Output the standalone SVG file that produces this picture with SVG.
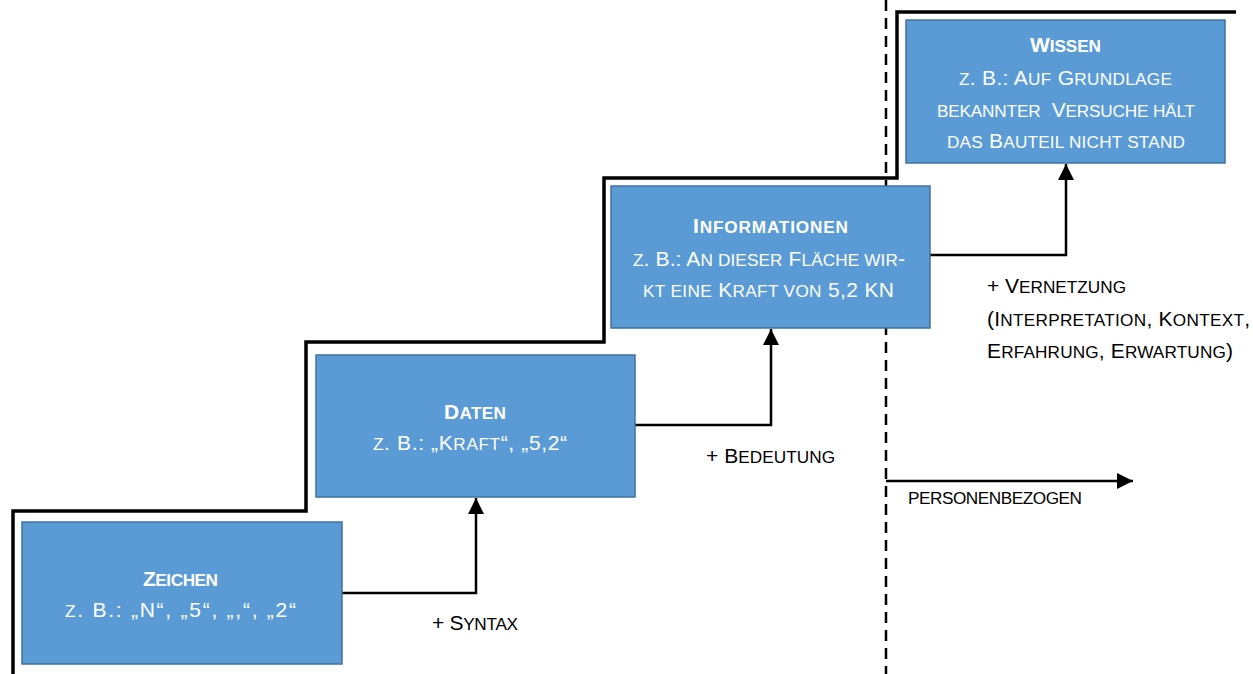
<svg xmlns="http://www.w3.org/2000/svg" width="1253" height="674" viewBox="0 0 1253 674">
  <style>
    .box { fill: #5B9BD5; stroke: #41719C; stroke-width: 1.5; }
    .t { font-family: "Liberation Sans", Arial, sans-serif; fill: #FFFFFF; font-size: 21px; }
    .h { font-weight: bold; }
    .lbl { font-family: "Liberation Sans", Arial, sans-serif; fill: #000000; font-size: 21px; }
    .s { font-size: 17.2px; }
    .stair { fill: none; stroke: #000; stroke-width: 3.5; }
    .conn { fill: none; stroke: #000; stroke-width: 2.5; }
    .dash { fill: none; stroke: #000; stroke-width: 2.5; stroke-dasharray: 11 7; }
  </style>
  <defs>
    <marker id="arrow" viewBox="0 0 10 10" refX="10" refY="5" markerWidth="6.5" markerHeight="6.5" orient="auto" markerUnits="strokeWidth">
      <path d="M0,0 L10,5 L0,10 Z" fill="#000"/>
    </marker>
  </defs>

  <rect width="1253" height="674" fill="#FFFFFF"/>

  <!-- staircase and boundary -->
  <polyline class="stair" points="13,674 13,511 306,511 306,342 604,342 604,178 897,178 897,12 1236,12"/>
  <line class="dash" x1="886" y1="0" x2="886" y2="674"/>

  <!-- connectors -->
  <g id="connectors">
    <polyline class="conn" points="342,593 476,593 476,498" marker-end="url(#arrow)"/>
    <polyline class="conn" points="635,425 771,425 771,329" marker-end="url(#arrow)"/>
    <polyline class="conn" points="930,255 1066,255 1066,164" marker-end="url(#arrow)"/>
    <line class="conn" x1="886" y1="481" x2="1133" y2="481" marker-end="url(#arrow)"/>
  </g>

  <!-- nodes (small caps built from two type sizes) -->
  <g id="zeichen">
    <rect class="box" x="22" y="522" width="320" height="142"/>
    <text class="t h" x="143" y="586" textLength="75">Z<tspan class="s">EICHEN</tspan></text>
    <text class="t" x="65" y="617" textLength="231"><tspan class="s">Z</tspan>. B.: „N“, „5“, „,“, „2“</text>
  </g>
  <g id="daten">
    <rect class="box" x="316" y="355" width="319" height="142"/>
    <text class="t h" x="444" y="419" textLength="62">D<tspan class="s">ATEN</tspan></text>
    <text class="t" x="373" y="450" textLength="194"><tspan class="s">Z</tspan>. B.: „K<tspan class="s">RAFT</tspan>“, „5,2“</text>
  </g>
  <g id="informationen">
    <rect class="box" x="611" y="186" width="319" height="142"/>
    <text class="t h" x="693" y="233" textLength="155">I<tspan class="s">NFORMATIONEN</tspan></text>
    <text class="t" x="633" y="266" textLength="272"><tspan class="s">Z</tspan>. B.: A<tspan class="s">N DIESER</tspan> F<tspan class="s">LÄCHE WIR</tspan>-</text>
    <text class="t" x="643" y="297" textLength="251"><tspan class="s">KT EINE</tspan> K<tspan class="s">RAFT VON</tspan> 5,2 KN</text>
  </g>
  <g id="wissen">
    <rect class="box" x="906" y="20" width="319" height="143"/>
    <text class="t h" x="1030" y="52" textLength="71">W<tspan class="s">ISSEN</tspan></text>
    <text class="t" x="959" y="85" textLength="213"><tspan class="s">Z</tspan>. B.: A<tspan class="s">UF</tspan> G<tspan class="s">RUNDLAGE</tspan></text>
    <text class="t" x="937" y="117" textLength="258" xml:space="preserve"><tspan class="s">BEKANNTER</tspan>  V<tspan class="s">ERSUCHE HÄLT</tspan></text>
    <text class="t" x="947" y="148" textLength="238"><tspan class="s">DAS</tspan> B<tspan class="s">AUTEIL NICHT STAND</tspan></text>
  </g>

  <!-- labels -->
  <g id="labels">
    <text class="lbl" x="432" y="630" textLength="86">+ S<tspan class="s">YNTAX</tspan></text>
    <text class="lbl" x="706" y="463" textLength="129">+ B<tspan class="s">EDEUTUNG</tspan></text>
    <text class="lbl" x="987" y="293" textLength="139">+ V<tspan class="s">ERNETZUNG</tspan></text>
    <text class="lbl" x="987" y="326" textLength="263">(I<tspan class="s">NTERPRETATION</tspan>, K<tspan class="s">ONTEXT</tspan>,</text>
    <text class="lbl" x="987" y="358" textLength="246">E<tspan class="s">RFAHRUNG</tspan>, E<tspan class="s">RWARTUNG</tspan>)</text>
    <text class="lbl" x="908" y="504" textLength="174"><tspan class="s">PERSONENBEZOGEN</tspan></text>
  </g>
</svg>
